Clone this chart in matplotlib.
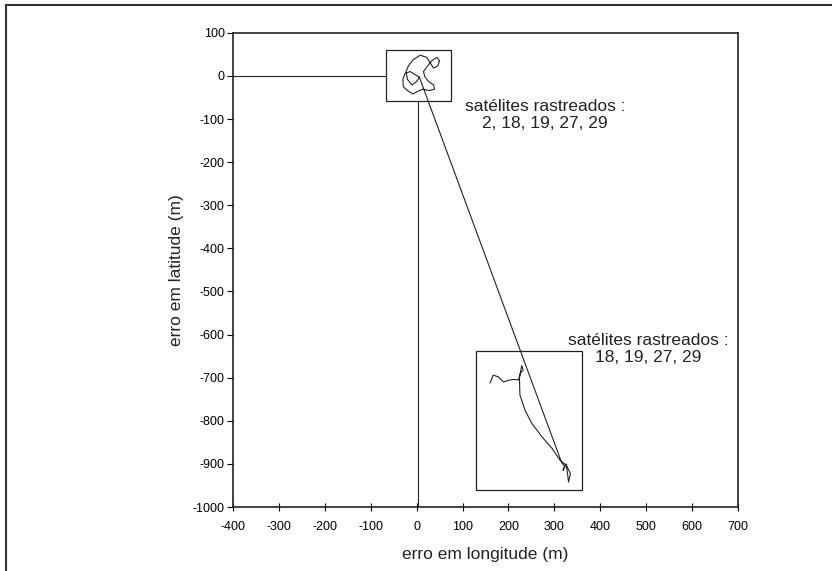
import matplotlib
matplotlib.use("Agg")
import matplotlib.pyplot as plt
from matplotlib.patches import Rectangle
from matplotlib.lines import Line2D

plt.rcParams['font.family'] = ['Liberation Sans', 'DejaVu Sans']
plt.rcParams['axes.unicode_minus'] = False

# trajectory with 5 satellites (top cluster), then jump to 4 satellites (bottom cluster)
traj_lon = [6, -14, -25, -30, -29, -20, -8, 0, 13, 28, 39, 37, 26, 18, 15, 24, 33, 44, 50, 46,
            37, 31, 22, 8, -7, -18, -23, -20, -10, 0, 6,
            316, 322, 319, 326, 331, 335, 326, 312, 295, 273, 251, 236, 225, 224, 229, 232, 226,
            222, 211, 200, 189, 178, 167, 160]
traj_lat = [-3, 10, 6, -8, -25, -34, -42, -37, -31, -34, -31, -21, -13, -2, 10, 23, 35, 43, 35, 23,
            18, 28, 43, 48, 38, 23, 10, -8, -21, -13, -3,
            -897, -905, -915, -900, -942, -922, -903, -891, -864, -837, -806, -775, -740, -700, -672, -682, -690,
            -705, -704, -706, -710, -698, -694, -712]

# outlier fixes running along the axes
outlier_lon = [-400, 2, 2]
outlier_lat = [0, 0, -1000]

# boxes around each cluster: (lon_min, lon_max, lat_min, lat_max)
box_top = (-67, 75, -58, 61)
box_bottom = (130, 360, -960, -637)

label_top = "satélites rastreados :\n2, 18, 19, 27, 29"
label_bottom = "satélites rastreados :\n18, 19, 27, 29"
label_top_pos = (280, -90)
label_bottom_pos = (505, -634)

fig = plt.figure(figsize=(8.32, 5.71), dpi=100)
ax = fig.add_axes([0.280, 0.112, 0.607, 0.8306])

ax.plot(outlier_lon, outlier_lat, color="#222222", lw=0.8, zorder=1)
for b in (box_top, box_bottom):
    ax.add_patch(Rectangle((b[0], b[2]), b[1] - b[0], b[3] - b[2],
                           facecolor="white", edgecolor="#222222", lw=0.9, zorder=2))
ax.plot(traj_lon, traj_lat, color="#222222", lw=0.8, zorder=3)

ax.text(*label_top_pos, label_top, ha="center", va="center", fontsize=12.5,
        linespacing=1.15, color="#222222")
ax.text(*label_bottom_pos, label_bottom, ha="center", va="center", fontsize=12.5,
        linespacing=1.15, color="#222222")

ax.set_xlim(-400, 700)
ax.set_ylim(-1000, 100)
ax.set_xticks(range(-400, 701, 100))
ax.set_yticks(range(-1000, 101, 100))
ax.tick_params(axis="y", direction="out", length=4, width=0.8, pad=2, labelsize=9)
ax.tick_params(axis="x", direction="inout", length=6, width=0.8, pad=7, labelsize=9)
for s in ax.spines.values():
    s.set_linewidth(1.2)
    s.set_color("#222222")

ax.set_xlabel("erro em longitude (m)", fontsize=12.5, labelpad=10, color="#222222")
ax.set_ylabel("erro em latitude (m)", fontsize=12.5, labelpad=6, color="#222222")

# outer frame of the scanned page
fig.add_artist(Line2D([0.0072, 1.0], [0.991, 0.991], color="#333333", lw=1.5))
fig.add_artist(Line2D([0.0072, 0.0072], [0.0, 0.991], color="#333333", lw=1.5))

fig.savefig("out.png", dpi=100)
